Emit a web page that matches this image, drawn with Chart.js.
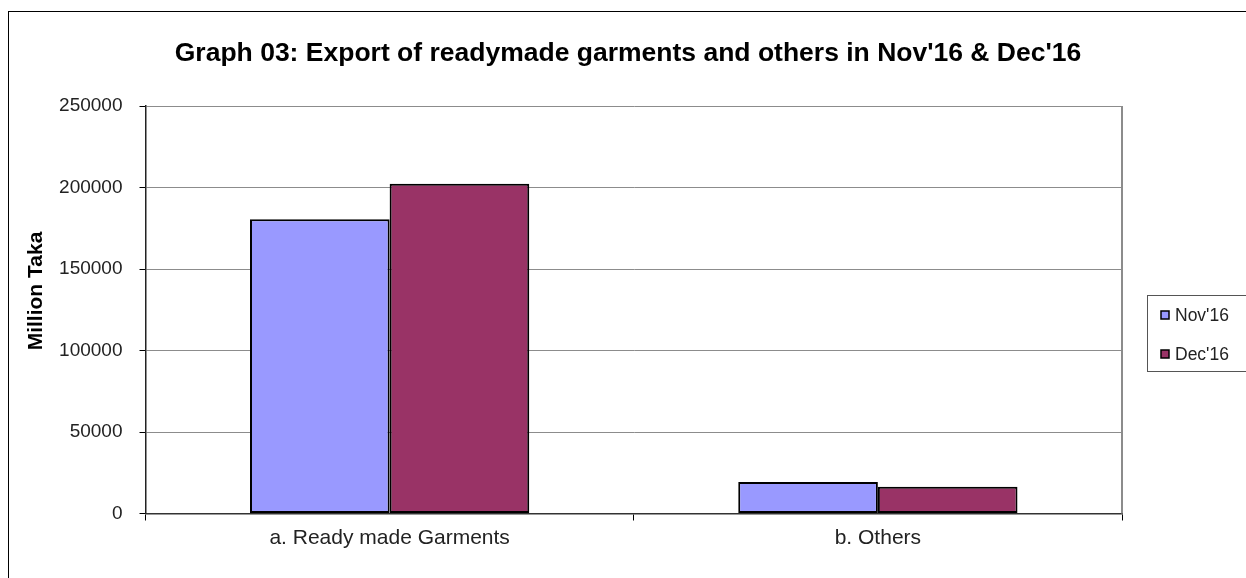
<!DOCTYPE html>
<html>
<head>
<meta charset="utf-8">
<script src="https://cdn.jsdelivr.net/npm/chart.js@4/dist/chart.umd.min.js"></script>
<style>
html,body{margin:0;padding:0;background:#fff;}
#wrap{width:1246px;height:578px;position:relative;}
</style>
</head>
<body>
<div id="wrap"><canvas id="c" width="1246" height="578"></canvas></div>
<script>
const categories = ["a. Ready made Garments", "b. Others"];
const seriesNames = ["Nov'16", "Dec'16"];
const nov16 = [180500, 19300];
const dec16 = [202300, 16400];
const yTicks = [0, 50000, 100000, 150000, 200000, 250000];
const titleText = "Graph 03: Export of readymade garments and others in Nov'16 & Dec'16";
const yAxisTitle = "Million Taka";

const colors = ["#9999FF", "#993366"];
const FONT = 'Arial, "Liberation Sans", sans-serif';

const decorPlugin = {
  id: 'decor',
  afterDraw(chart) {
    const ctx = chart.ctx;
    const a = chart.chartArea;
    ctx.save();
    // outer frame
    ctx.strokeStyle = '#000';
    ctx.lineWidth = 1;
    ctx.strokeRect(8.5, 11.5, 3000, 3000);
    // plot border right
    ctx.strokeStyle = '#8c8c8c';
    ctx.lineWidth = 2;
    ctx.beginPath();
    ctx.moveTo(Math.round(a.right), a.top);
    ctx.lineTo(Math.round(a.right), a.bottom);
    ctx.stroke();
    // chart title
    ctx.fillStyle = '#000';
    ctx.font = 'bold 26.5px ' + FONT;
    ctx.textAlign = 'center';
    ctx.textBaseline = 'middle';
    ctx.fillText(titleText, 628, 54);
    // y axis title
    ctx.save();
    ctx.translate(36, 291);
    ctx.rotate(-Math.PI / 2);
    ctx.fillStyle = '#000';
    ctx.font = 'bold 21px ' + FONT;
    ctx.textAlign = 'center';
    ctx.textBaseline = 'middle';
    ctx.fillText(yAxisTitle, 0, 0);
    ctx.restore();
    // legend
    const lx = 1147.5, ly = 295.5, lw = 110, lh = 76;
    ctx.strokeStyle = '#555';
    ctx.lineWidth = 1;
    ctx.strokeRect(lx, ly, lw, lh);
    const ys = [315, 354];
    ctx.font = '17.5px ' + FONT;
    ctx.textBaseline = 'middle';
    ctx.textAlign = 'left';
    chart.data.datasets.forEach((ds, i) => {
      ctx.fillStyle = ds.backgroundColor;
      ctx.fillRect(1161, ys[i] - 4, 8, 8);
      ctx.strokeStyle = '#000';
      ctx.lineWidth = 1.5;
      ctx.strokeRect(1161, ys[i] - 4, 8, 8);
      ctx.fillStyle = '#222';
      ctx.fillText(ds.label, 1175, ys[i] + 1);
    });
    ctx.restore();
  }
};

new Chart(document.getElementById('c'), {
  type: 'bar',
  data: {
    labels: categories,
    datasets: [
      { label: seriesNames[0], data: nov16, backgroundColor: colors[0], borderColor: '#000', borderWidth: 2, borderSkipped: false },
      { label: seriesNames[1], data: dec16, backgroundColor: colors[1], borderColor: '#000', borderWidth: 2, borderSkipped: false }
    ]
  },
  options: {
    responsive: false,
    animation: false,
    devicePixelRatio: 1,
    layout: { padding: { left: 0, right: 124, top: 106, bottom: 0 } },
    datasets: { bar: { barPercentage: 1.0, categoryPercentage: 0.572 } },
    plugins: {
      legend: { display: false },
      tooltip: { enabled: false },
      title: { display: false }
    },
    scales: {
      x: {
        offset: true,
        grid: { display: true, drawOnChartArea: false, drawTicks: true, tickLength: 7, offset: true, color: '#000', tickColor: '#000' },
        border: { display: true, color: '#333', width: 1.5 },
        ticks: { color: '#222', padding: 5, font: { family: FONT, size: 21 } },
        afterFit(s) { s.height = 64.5; }
      },
      y: {
        min: 0,
        max: 250000,
        afterBuildTicks(s) { s.ticks = yTicks.map(v => ({ value: v })); },
        grid: { color: '#8c8c8c', lineWidth: 1, tickColor: '#000', tickLength: 6, drawTicks: true },
        border: { display: true, color: '#222', width: 1.5 },
        ticks: { color: '#222', padding: 17, font: { family: FONT, size: 19 }, callback: (v) => String(v) },
        title: { display: false },
        afterFit(s) { s.width = 145.5; }
      }
    }
  },
  plugins: [decorPlugin]
});
</script>
</body>
</html>
